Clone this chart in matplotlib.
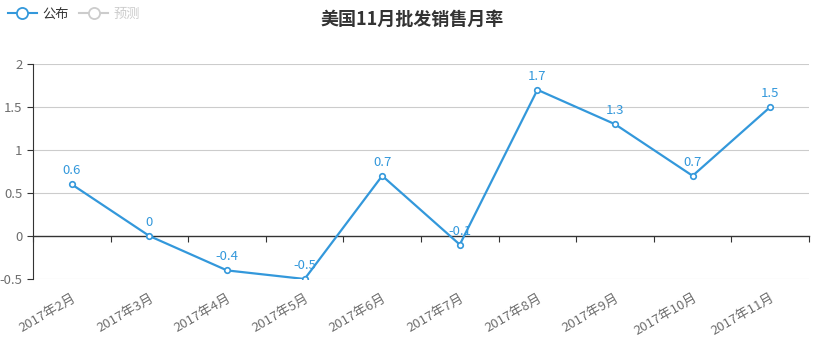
import matplotlib.pyplot as plt
from matplotlib.lines import Line2D

plt.rcParams['font.family'] = ['Noto Sans CJK SC', 'DejaVu Sans']

# 数据
months = ["2017年2月", "2017年3月", "2017年4月", "2017年5月", "2017年6月",
          "2017年7月", "2017年8月", "2017年9月", "2017年10月", "2017年11月"]
published = [0.6, 0, -0.4, -0.5, 0.7, -0.1, 1.7, 1.3, 0.7, 1.5]
title = "美国11月批发销售月率"
legend_names = ["公布", "预测"]
y_ticks = [-0.5, 0, 0.5, 1, 1.5, 2]

blue = "#3398DB"
grey_txt = "#6e6e6e"

fig = plt.figure(figsize=(8.25, 3.4), dpi=100)
ax = fig.add_axes([33 / 825, 1 - 279 / 340, 776 / 825, 215 / 340])

x = list(range(len(months)))
ax.plot(x, published, color=blue, lw=1.6, marker='o', ms=4,
        mfc='white', mec=blue, mew=1.2, zorder=3)
for xi, v in zip(x, published):
    ax.annotate(f"{v:g}", (xi, v), xytext=(0, 5), textcoords='offset points',
                ha='center', va='bottom', color=blue, fontsize=9.5)

ax.set_xlim(-0.5, len(months) - 0.5)
ax.set_ylim(-0.5, 2)
ax.set_yticks(y_ticks)
ax.set_yticklabels([f"{t:g}" for t in y_ticks])
ax.yaxis.grid(True, color="#cccccc", lw=0.8)
ax.set_axisbelow(True)
# 0 处不画网格线，由零轴代替
for gl, t in zip(ax.get_ygridlines(), y_ticks):
    if t == 0:
        gl.set_visible(False)

for s in ["top", "right", "bottom"]:
    ax.spines[s].set_visible(False)
ax.spines["left"].set_color("#333333")
ax.tick_params(axis='y', colors="#333333", labelcolor=grey_txt, labelsize=9.5,
               length=4, width=0.8)

# 类目标签放在底部
ax.set_xticks(x)
ax.set_xticklabels(months, rotation=30, ha='right', rotation_mode='anchor',
                   color=grey_txt, fontsize=9.5)
ax.tick_params(axis='x', length=0, pad=9)

# 零轴线和刻度
zero_axis = ax.secondary_xaxis(0.2)
zero_axis.set_xticks([i - 0.5 for i in range(len(months) + 1)])
zero_axis.set_xticklabels([])
zero_axis.spines["bottom"].set_color("#333333")
zero_axis.spines["bottom"].set_linewidth(1.0)
zero_axis.tick_params(axis='x', direction='out', length=4, width=0.8, colors="#333333")

fig.suptitle(title, x=0.5, y=0.97, fontsize=13, fontweight='bold', color="#333333")

handles = [
    Line2D([], [], color=blue, lw=1.5, marker='o', ms=8, mfc='white', mec=blue, mew=1.3),
    Line2D([], [], color="#cccccc", lw=1.5, marker='o', ms=8, mfc='white', mec="#cccccc", mew=1.3),
]
leg = fig.legend(handles, legend_names, loc='upper left', bbox_to_anchor=(0.0, 1.0),
                 ncol=2, frameon=False, fontsize=9.5, handlelength=2.2,
                 handletextpad=0.4, columnspacing=0.8, borderaxespad=0.2)
leg.get_texts()[0].set_color("#333333")
leg.get_texts()[1].set_color("#cccccc")

fig.savefig("out.png", dpi=100)
